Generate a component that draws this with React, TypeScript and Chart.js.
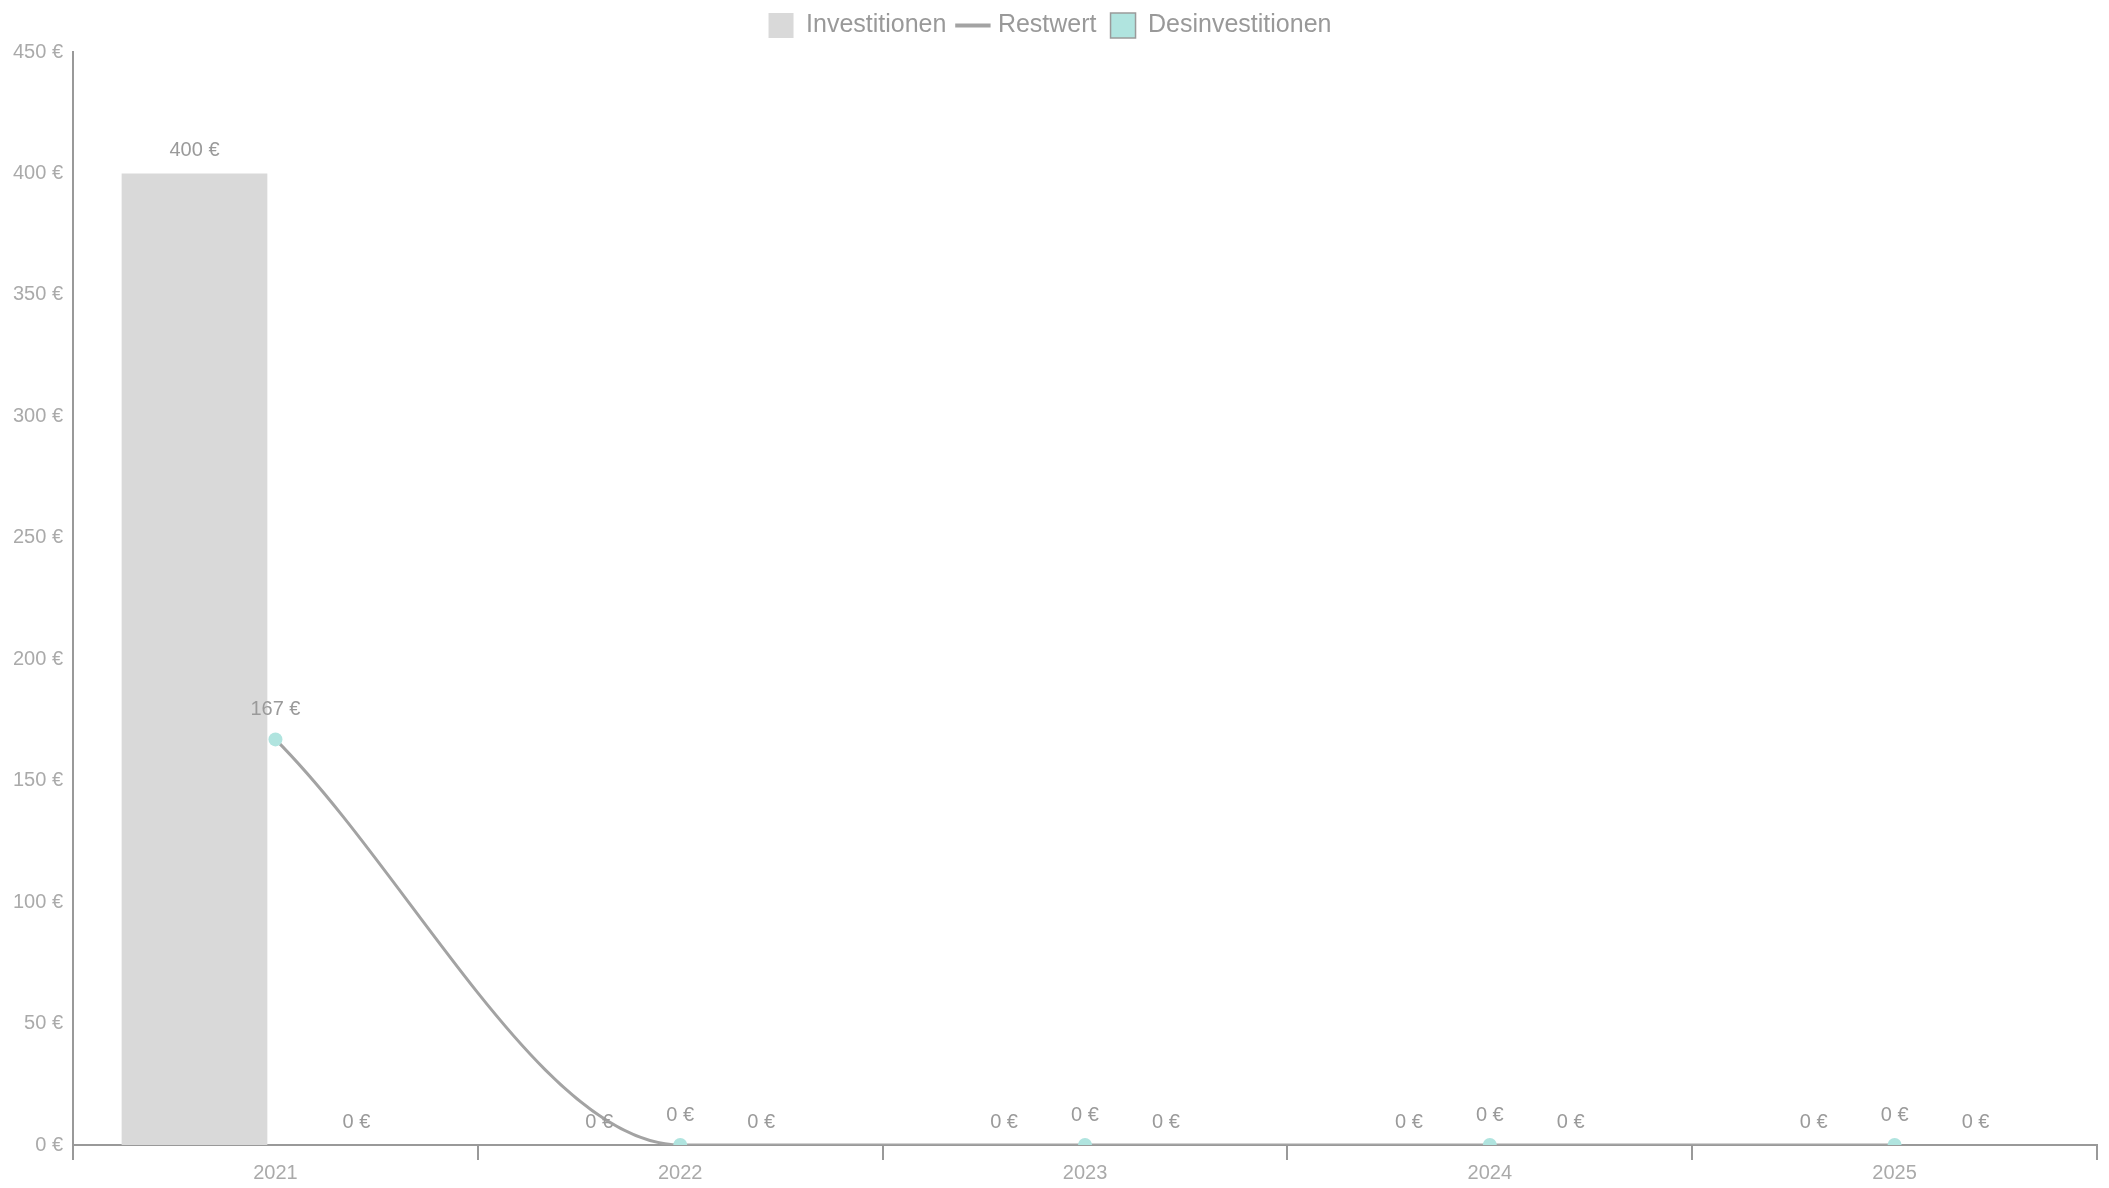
import React, { useEffect, useRef } from "react";
import { Chart, registerables } from "chart.js";

Chart.register(...registerables);

const years = ["2021", "2022", "2023", "2024", "2025"];
const investitionen = [400, 0, 0, 0, 0];
const restwert = [167, 0, 0, 0, 0];
const desinvestitionen = [0, 0, 0, 0, 0];
const yMax = 450;
const yStep = 50;

const FONT = '"Liberation Sans", Arial, sans-serif';
const fmt = (v: number) => `${Math.round(v)} €`;

const valueLabels = {
  id: "valueLabels",
  afterDatasetsDraw(chart: any) {
    const ctx = chart.ctx;
    ctx.save();
    ctx.font = `20px ${FONT}`;
    ctx.fillStyle = "#9a9a9a";
    ctx.textAlign = "center";
    ctx.textBaseline = "middle";
    chart.data.datasets.forEach((ds: any, i: number) => {
      const meta = chart.getDatasetMeta(i);
      if (meta.hidden) return;
      const off = meta.type === "line" ? 30 : 23;
      meta.data.forEach((el: any, j: number) => {
        ctx.fillText(fmt(ds.data[j]), el.x, el.y - off);
      });
    });
    ctx.restore();
  },
};

const legendSpacing = {
  id: "legendSpacing",
  beforeInit(chart: any) {
    const legend = chart.legend;
    if (!legend) return;
    const orig = legend.fit;
    legend.fit = function () {
      orig.call(this);
      this.height += 4;
    };
  },
};

export default function App() {
  const ref = useRef<HTMLCanvasElement | null>(null);

  useEffect(() => {
    document.body.style.margin = "0";
    const canvas = ref.current;
    if (!canvas) return;
    const chart = new Chart(canvas, {
      type: "bar",
      data: {
        labels: years,
        datasets: [
          {
            type: "bar",
            label: "Investitionen",
            data: investitionen,
            backgroundColor: "#d9d9d9",
            borderWidth: 0,
            order: 1,
          },
          {
            type: "line",
            label: "Restwert",
            data: restwert,
            borderColor: "#a3a3a3",
            backgroundColor: "#b0e4df",
            borderWidth: 3,
            pointRadius: 7,
            pointBackgroundColor: "#b0e4df",
            pointBorderWidth: 0,
            pointBorderColor: "#b0e4df",
            cubicInterpolationMode: "monotone",
            fill: false,
            order: 0,
          },
          {
            type: "bar",
            label: "Desinvestitionen",
            data: desinvestitionen,
            backgroundColor: "#b0e4df",
            borderColor: "#9a9a9a",
            borderWidth: 0,
            order: 1,
          },
        ],
      } as any,
      options: {
        animation: false,
        responsive: true,
        maintainAspectRatio: false,
        layout: { padding: { left: 3, right: 12, top: -1, bottom: 2 } },
        datasets: { bar: { categoryPercentage: 0.8, barPercentage: 0.9 } },
        plugins: {
          tooltip: { enabled: false },
          legend: {
            position: "top",
            labels: {
              color: "#999999",
              font: { size: 25, family: FONT },
              usePointStyle: true,
              padding: 14,
              sort: (a: any, b: any) => a.datasetIndex - b.datasetIndex,
              generateLabels: (chart: any) => {
                const items = Chart.defaults.plugins.legend.labels.generateLabels(chart);
                return items.map((it: any) => {
                  if (it.datasetIndex === 1) {
                    return { ...it, pointStyle: "line", strokeStyle: "#a3a3a3", lineWidth: 4 };
                  }
                  if (it.datasetIndex === 2) {
                    return { ...it, pointStyle: "rect", fillStyle: "#b0e4df", strokeStyle: "#9a9a9a", lineWidth: 1.5 };
                  }
                  return { ...it, pointStyle: "rect", fillStyle: "#d9d9d9", strokeStyle: "#d9d9d9", lineWidth: 0 };
                });
              },
            },
          },
        },
        scales: {
          x: {
            offset: true,
            grid: {
              display: true,
              offset: true,
              drawOnChartArea: false,
              drawTicks: true,
              tickLength: 15,
              color: "#999999",
              lineWidth: 2,
            },
            border: { display: true, color: "#999999", width: 2 },
            ticks: {
              color: "#aaaaaa",
              font: { size: 20, family: FONT, lineHeight: 1 },
              padding: 3,
            },
          },
          y: {
            min: 0,
            max: yMax,
            grid: { display: false, drawTicks: false },
            border: { display: true, color: "#999999", width: 2 },
            ticks: {
              stepSize: yStep,
              color: "#aaaaaa",
              font: { size: 20, family: FONT },
              padding: 10,
              callback: (v: any) => fmt(Number(v)),
            },
          },
        },
      } as any,
      plugins: [valueLabels, legendSpacing],
    });
    return () => chart.destroy();
  }, []);

  return (
    <div style={{ position: "fixed", left: 0, top: 0, width: 2109, height: 1188 }}>
      <canvas ref={ref} />
    </div>
  );
}
